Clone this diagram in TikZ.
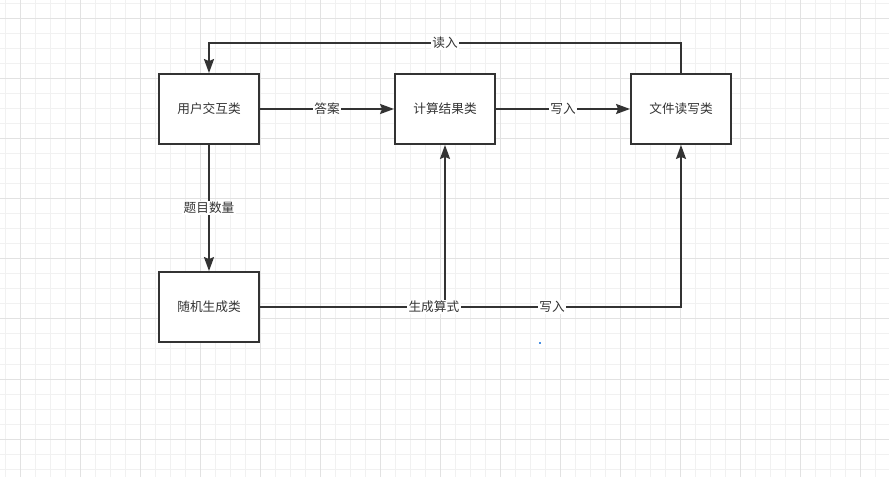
\documentclass[tikz,border=0pt]{standalone}
\usepackage{fontspec}
\setmainfont{Noto Sans CJK SC}
\usetikzlibrary{arrows.meta}
\definecolor{ink}{HTML}{333333}
\definecolor{gridminor}{HTML}{F1F1F1}
\definecolor{gridmajor}{HTML}{E2E2E2}
\definecolor{dotblue}{HTML}{4A90E2}
\tikzset{every picture/.style={line width=1.4pt}}
\tikzset{
  box/.style={draw=ink, minimum width=75pt, minimum height=52.5pt, inner sep=0pt,
    text=ink, font=\fontsize{9.5}{11}\selectfont},
  link/.style={draw=ink, -{Stealth[length=10.5pt,width=7.5pt,inset=1.5pt]}},
  tag/.style={fill=white, inner sep=1pt, text=ink, font=\fontsize{9.5}{11}\selectfont}
}

\begin{document}
\begin{tikzpicture}[x=0.75pt, y=-0.75pt]
    \useasboundingbox (0,0) rectangle (889,477);
    % grid
    \foreach \x in {5,20,...,889} \draw[gridminor, line width=0.75pt] (\x,0) -- (\x,477);
    \foreach \y in {4,19,...,477} \draw[gridminor, line width=0.75pt] (0,\y) -- (889,\y);
    \foreach \x in {20,80,...,889} \draw[gridmajor, line width=0.75pt] (\x,0) -- (\x,477);
    \foreach \y in {19,79,...,477} \draw[gridmajor, line width=0.75pt] (0,\y) -- (889,\y);

    \node[box, fill=white](B1) at (209, 109){用户交互类};
    \node[box, fill=white](B2) at (445, 109){计算结果类};
    \node[box, fill=white](B3) at (681, 109){文件读写类};
    \node[box, fill=white](B4) at (209, 307){随机生成类};

    \draw[link] (B3.north) -- ++(0,-30) -| node[tag, pos=0.25](T1){读入} (B1.north);
    \draw[link] (B1.east) -- node[tag](T2){答案} (B2.west);
    \draw[link] (B2.east) -- node[tag](T3){写入} (B3.west);
    \draw[link] (B1.south) -- node[tag](T4){题目数量} (B4.north);
    \draw[link] (B4.east) -| node[tag, pos=0.347](T6){写入} (B3.south);
    \draw[link] (B4.east) -| node[tag, pos=0.47](T5){生成算式} (B2.south);

    \fill[dotblue] (539,342) rectangle (541,344);
\end{tikzpicture}
\end{document}
